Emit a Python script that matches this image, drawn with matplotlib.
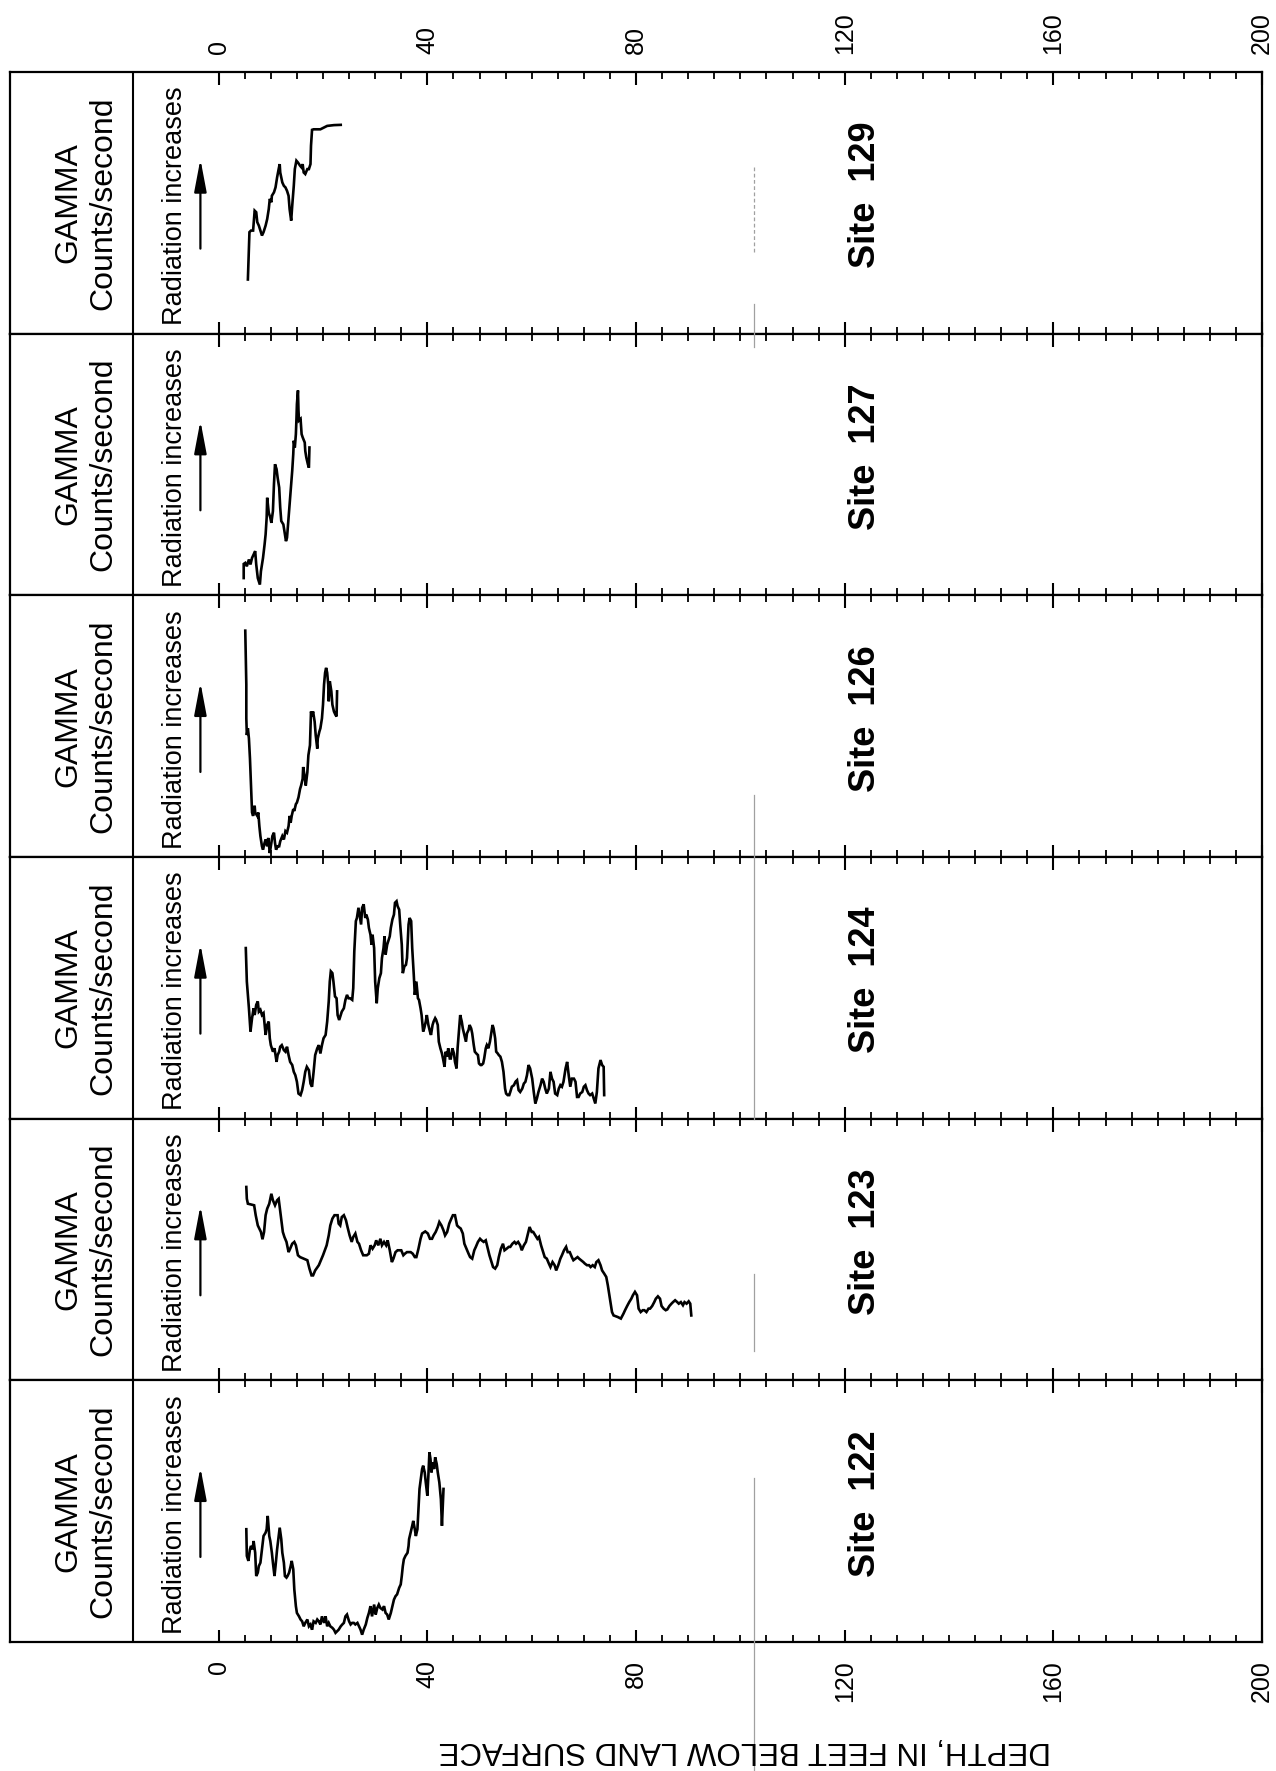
import matplotlib
matplotlib.use('Agg')
import matplotlib.pyplot as plt
import matplotlib.transforms as mtransforms
from matplotlib.lines import Line2D
import numpy as np

plt.rcParams['font.family'] = ['Liberation Sans', 'DejaVu Sans']

# Sites, top panel to bottom panel
SITES = ['129', '127', '126', '124', '123', '122']

# Gamma logs: depth in feet, gamma in relative counts (0 = panel bottom, 100 = panel top)
depth_129 = [5.6, 5.9, 6.2, 6.6, 6.9, 7.2, 7.4, 7.7, 8.0, 8.3,
             8.6, 9.0, 9.3, 9.6, 9.8, 10.1, 10.2, 10.6, 10.9, 11.2,
             11.5, 11.7, 11.8, 12.2, 12.5, 12.8, 13.1, 13.4, 13.6, 13.9,
             14.1, 14.4, 14.6, 14.9, 15.2, 15.6, 15.9, 16.1, 16.3, 16.6,
             17.0, 17.3, 17.6, 17.7, 17.9, 18.2, 18.9, 19.5, 20.2, 20.8,
             22.1, 23.4]
gamma_129 = [20.7, 38.8, 39.4, 39.4, 47.0, 46.4, 42.6, 41.3, 39.4, 37.5,
             38.8, 41.3, 43.8, 47.6, 51.5, 50.2, 52.7, 54.0, 55.9, 59.7,
             62.9, 64.8, 61.6, 57.8, 56.5, 55.9, 54.6, 52.7, 47.6, 43.2,
             48.9, 56.5, 62.9, 66.1, 65.4, 64.2, 63.5, 64.8, 61.6, 61.0,
             62.9, 62.9, 64.8, 71.8, 77.9, 78.1, 78.1, 78.1, 78.8, 79.4,
             79.7, 79.8]

depth_127 = [4.8, 4.8, 5.1, 5.4, 5.8, 6.1, 6.4, 6.7, 7.0, 7.2,
             7.5, 7.9, 8.1, 8.5, 8.8, 9.0, 9.2, 9.3, 9.6, 9.9,
             10.1, 10.4, 10.6, 10.8, 11.1, 11.3, 11.6, 11.8, 12.0, 12.4,
             12.6, 12.9, 13.1, 13.3, 13.6, 13.9, 14.1, 14.3, 14.4, 14.6,
             14.8, 14.9, 15.0, 15.2, 15.3, 15.4, 15.7, 15.9, 16.1, 16.5,
             16.6, 16.8, 17.1, 17.3, 17.4]
gamma_127 = [6.6, 12.0, 12.4, 11.1, 13.7, 11.8, 14.3, 15.6, 16.9, 11.8,
             6.6, 4.1, 9.2, 14.3, 19.4, 23.3, 29.7, 37.3, 31.6, 29.7,
             27.7, 32.2, 42.5, 50.1, 48.2, 45.0, 41.2, 33.5, 28.4, 27.1,
             24.6, 20.7, 22.0, 27.1, 34.8, 42.5, 47.6, 54.0, 59.1, 56.5,
             61.6, 66.8, 73.1, 78.3, 70.6, 66.8, 67.4, 61.6, 60.4, 58.4,
             55.2, 52.7, 50.1, 48.8, 56.5]

depth_126 = [5.1, 5.3, 5.3, 5.4, 5.6, 5.8, 6.0, 6.2, 6.4, 6.6,
             6.9, 7.0, 7.4, 7.6, 7.8, 8.0, 8.3, 8.5, 8.8, 9.0,
             9.3, 9.5, 9.8, 10.1, 10.3, 10.6, 10.8, 11.0, 11.3, 11.6,
             11.8, 12.2, 12.5, 12.8, 13.1, 13.4, 13.6, 13.8, 14.0, 14.3,
             14.5, 14.8, 15.0, 15.3, 15.6, 15.8, 16.1, 16.2, 16.5, 16.7,
             17.0, 17.2, 17.5, 17.7, 17.9, 18.1, 18.4, 18.6, 18.9, 19.0,
             19.3, 19.5, 19.8, 20.0, 20.2, 20.4, 20.6, 20.8, 21.0, 21.1,
             21.3, 21.6, 21.8, 22.1, 22.4, 22.6, 22.7]
gamma_126 = [86.5, 65.9, 53.0, 46.6, 49.2, 45.3, 37.6, 27.3, 17.0, 15.7,
             19.6, 17.0, 15.7, 17.0, 11.8, 8.0, 4.1, 2.8, 5.4, 6.7,
             4.1, 7.3, 1.5, 5.4, 8.0, 9.3, 5.4, 2.8, 4.1, 4.1,
             6.0, 8.0, 6.7, 9.9, 9.3, 11.8, 15.7, 13.1, 15.7, 18.3,
             17.6, 20.2, 20.8, 22.8, 26.0, 27.3, 29.9, 34.4, 30.5, 27.3,
             32.4, 38.9, 42.7, 55.6, 53.7, 55.6, 51.7, 46.6, 41.4, 45.3,
             47.9, 49.2, 53.0, 58.2, 65.9, 70.4, 72.3, 70.4, 65.9, 59.5,
             67.2, 63.3, 58.2, 55.6, 54.3, 53.7, 63.3]

depth_124 = [5.2, 5.4, 5.8, 6.1, 6.4, 6.7, 6.9, 7.2, 7.5, 7.7,
             8.0, 8.3, 8.6, 9.0, 9.3, 9.6, 9.8, 10.0, 10.4, 10.7,
             11.1, 11.3, 11.6, 11.8, 12.1, 12.5, 12.8, 13.1, 13.4, 13.7,
             14.1, 14.4, 14.7, 15.0, 15.3, 15.7, 16.0, 16.3, 16.6, 16.9,
             17.3, 17.6, 17.9, 18.2, 18.5, 18.9, 19.2, 19.5, 19.8, 20.1,
             20.5, 20.8, 21.1, 21.3, 21.5, 21.8, 22.0, 22.3, 22.6, 22.8,
             23.1, 23.3, 23.6, 24.0, 24.3, 24.6, 24.9, 25.2, 25.6, 25.8,
             26.0, 26.3, 26.5, 26.8, 27.0, 27.3, 27.5, 27.8, 28.1, 28.3,
             28.6, 28.8, 29.1, 29.3, 29.5, 29.8, 30.0, 30.3, 30.5, 30.8,
             31.1, 31.3, 31.6, 31.8, 32.0, 32.3, 32.5, 32.8, 33.0, 33.3,
             33.6, 33.8, 34.1, 34.3, 34.6, 34.8, 35.1, 35.3, 35.6, 35.9,
             36.1, 36.4, 36.6, 36.9, 37.1, 37.4, 37.6, 37.9, 38.2, 38.4,
             38.7, 38.9, 39.2, 39.4, 39.7, 39.9, 40.2, 40.5, 40.7, 41.0,
             41.2, 41.5, 41.7, 42.0, 42.2, 42.5, 42.8, 43.0, 43.3, 43.5,
             43.8, 44.0, 44.3, 44.5, 44.8, 45.1, 45.3, 45.6, 45.8, 46.1,
             46.3, 46.6, 46.8, 47.1, 47.4, 47.6, 47.9, 48.1, 48.4, 48.6,
             48.9, 49.1, 49.4, 49.7, 49.9, 50.2, 50.4, 50.7, 50.9, 51.2,
             51.4, 51.7, 52.0, 52.2, 52.5, 52.7, 53.0, 53.2, 53.5, 53.7,
             54.0, 54.3, 54.6, 54.9, 55.1, 55.4, 55.7, 55.9, 56.2, 56.6,
             56.9, 57.2, 57.5, 57.8, 58.2, 58.5, 58.8, 59.1, 59.4, 59.7,
             60.1, 60.4, 60.7, 61.0, 61.3, 61.7, 62.0, 62.3, 62.6, 62.9,
             63.3, 63.6, 63.9, 64.2, 64.5, 64.9, 65.2, 65.5, 65.8, 66.1,
             66.5, 66.8, 67.1, 67.4, 67.7, 68.1, 68.4, 68.7, 69.0, 69.3,
             69.7, 70.0, 70.3, 70.6, 70.9, 71.2, 71.6, 71.9, 72.2, 72.5,
             72.8, 73.2, 73.5, 73.8, 73.9]
gamma_124 = [65.2, 52.4, 42.2, 33.3, 38.4, 42.2, 39.6, 43.5, 44.8, 40.9,
             41.6, 39.6, 40.3, 32.0, 35.8, 37.1, 30.7, 28.1, 25.6, 26.9,
             21.7, 24.3, 25.6, 27.5, 28.1, 26.2, 25.6, 27.5, 24.3, 21.7,
             20.5, 17.9, 16.6, 14.1, 9.6, 9.0, 10.9, 14.1, 17.9, 19.8,
             18.5, 13.4, 12.2, 17.9, 24.3, 26.9, 28.1, 24.9, 28.1, 30.7,
             32.0, 37.1, 44.8, 52.4, 56.3, 55.6, 52.4, 46.7, 46.0, 39.6,
             37.7, 39.0, 40.9, 42.2, 45.4, 47.3, 46.0, 46.0, 45.4, 49.9,
             63.9, 75.5, 76.7, 80.6, 78.0, 74.2, 80.6, 81.9, 76.7, 78.0,
             76.1, 72.9, 70.3, 66.5, 70.3, 65.2, 52.4, 44.1, 49.9, 53.7,
             55.6, 61.4, 65.2, 69.7, 62.7, 66.5, 67.8, 69.7, 72.9, 76.1,
             78.0, 82.5, 83.1, 81.2, 79.9, 74.2, 66.5, 55.6, 58.2, 58.8,
             61.4, 74.2, 76.7, 75.5, 65.2, 55.0, 47.3, 52.4, 46.0, 45.4,
             42.2, 39.6, 33.3, 34.5, 37.1, 39.6, 35.8, 33.3, 32.0, 35.8,
             37.1, 38.4, 37.7, 35.8, 29.4, 26.9, 24.9, 23.0, 19.8, 25.6,
             23.7, 26.9, 23.0, 23.0, 26.9, 24.9, 21.7, 19.2, 26.9, 34.5,
             39.6, 37.1, 34.5, 32.0, 29.4, 32.6, 33.9, 35.8, 34.5, 32.6,
             28.1, 25.6, 24.9, 24.3, 21.1, 20.5, 20.5, 21.1, 23.0, 26.9,
             28.1, 26.9, 29.4, 32.0, 35.8, 34.5, 30.7, 25.6, 24.9, 24.3,
             23.7, 21.7, 17.9, 11.5, 9.6, 9.0, 9.0, 10.2, 12.2, 12.8,
             14.1, 14.7, 10.9, 10.2, 11.5, 13.4, 14.1, 16.6, 20.5, 19.2,
             15.3, 10.2, 5.8, 7.7, 10.2, 12.8, 15.3, 14.1, 11.5, 9.6,
             11.5, 17.9, 15.3, 14.1, 9.6, 9.0, 11.5, 12.8, 12.2, 14.1,
             19.2, 21.7, 16.6, 12.2, 15.3, 15.3, 14.1, 8.3, 8.3, 9.6,
             10.2, 12.2, 12.8, 10.9, 9.6, 9.0, 9.6, 7.7, 5.8, 10.2,
             19.2, 22.4, 20.5, 19.8, 9.0]

depth_123 = [5.3, 5.4, 5.6, 6.4, 6.8, 7.1, 7.5, 8.1, 8.4, 8.7,
             9.0, 9.3, 9.7, 10.1, 10.4, 10.8, 11.2, 11.5, 11.9, 12.3,
             12.6, 13.0, 13.4, 13.7, 14.1, 14.5, 14.8, 15.2, 15.6, 16.3,
             17.0, 17.4, 17.8, 18.1, 18.5, 19.2, 20.0, 20.7, 21.1, 21.4,
             21.8, 22.2, 22.8, 23.0, 23.3, 23.6, 24.0, 24.4, 24.7, 25.1,
             25.5, 25.8, 26.2, 26.6, 26.9, 27.3, 27.7, 28.4, 28.8, 29.1,
             29.5, 29.9, 30.2, 30.6, 31.0, 31.3, 31.7, 32.1, 32.4, 32.8,
             33.2, 33.5, 33.9, 34.3, 35.0, 35.4, 35.7, 36.1, 36.8, 37.2,
             37.6, 37.9, 38.3, 38.7, 39.0, 39.6, 40.1, 40.5, 40.9, 41.2,
             41.6, 42.0, 42.3, 42.7, 43.1, 43.4, 43.8, 44.2, 44.6, 44.9,
             45.3, 45.7, 46.0, 46.4, 46.8, 47.1, 47.5, 47.9, 48.2, 48.6,
             49.0, 49.3, 49.7, 50.1, 50.4, 50.8, 51.2, 51.5, 51.9, 52.3,
             52.6, 53.0, 53.4, 53.7, 54.1, 54.5, 54.8, 55.2, 55.6, 55.9,
             56.3, 56.7, 57.0, 57.4, 57.8, 58.1, 58.5, 58.9, 59.2, 59.6,
             60.0, 60.3, 60.7, 61.1, 61.4, 61.8, 62.2, 62.5, 62.9, 63.3,
             63.6, 64.0, 64.4, 64.7, 65.1, 65.5, 65.8, 66.2, 66.6, 66.9,
             67.3, 67.7, 68.0, 68.4, 68.8, 69.1, 69.9, 70.2, 70.6, 71.0,
             71.3, 71.7, 72.1, 72.4, 72.8, 73.2, 73.5, 73.9, 74.3, 74.6,
             75.0, 75.4, 75.7, 76.5, 77.1, 77.6, 77.9, 78.3, 78.7, 79.1,
             79.4, 79.8, 80.2, 80.5, 80.9, 81.3, 81.6, 82.0, 82.4, 82.7,
             83.1, 83.5, 83.8, 84.2, 84.6, 84.9, 85.3, 85.7, 86.0, 86.4,
             86.8, 87.1, 87.5, 87.9, 88.2, 88.6, 89.0, 89.3, 89.7, 90.1,
             90.4, 90.6]
gamma_123 = [73.9, 69.4, 67.5, 67.1, 66.9, 63.1, 59.2, 56.7, 53.9, 56.7,
             63.1, 65.6, 67.5, 71.3, 68.8, 66.9, 68.8, 69.4, 63.1, 56.7,
             54.8, 52.9, 49.0, 50.3, 52.2, 52.9, 51.6, 47.8, 47.1, 46.5,
             45.9, 42.7, 40.1, 40.1, 42.0, 44.0, 47.8, 51.6, 55.4, 59.2,
             61.8, 63.1, 63.1, 59.9, 59.2, 62.4, 63.1, 61.2, 58.6, 55.4,
             52.9, 54.8, 56.1, 52.9, 52.2, 49.7, 47.8, 47.8, 48.4, 51.6,
             50.3, 51.6, 53.5, 51.6, 54.1, 51.6, 52.9, 51.6, 53.5, 49.7,
             45.2, 46.5, 49.0, 49.7, 49.7, 47.8, 48.4, 49.0, 49.0, 48.4,
             47.1, 47.1, 50.3, 54.1, 56.1, 56.9, 56.1, 54.1, 54.1, 55.4,
             56.7, 58.6, 60.5, 59.2, 57.3, 55.4, 56.7, 59.9, 61.8, 63.1,
             63.1, 59.2, 58.6, 58.0, 56.1, 52.2, 50.3, 48.4, 47.1, 46.5,
             49.7, 51.0, 52.9, 54.1, 53.5, 52.9, 53.5, 51.0, 47.8, 45.2,
             43.3, 42.7, 44.0, 47.1, 50.3, 52.2, 49.7, 50.3, 51.0, 51.0,
             52.2, 52.9, 52.2, 52.9, 51.6, 49.7, 51.6, 52.9, 55.4, 58.6,
             56.7, 56.7, 55.4, 54.1, 54.8, 51.6, 49.0, 47.1, 46.5, 44.6,
             43.3, 45.2, 44.0, 42.0, 44.0, 46.5, 47.8, 49.7, 51.0, 49.0,
             49.0, 47.1, 45.9, 46.5, 47.1, 46.5, 45.2, 44.6, 44.0, 44.0,
             43.3, 44.0, 43.3, 45.2, 45.9, 44.0, 42.0, 40.8, 39.5, 36.3,
             31.2, 26.1, 24.8, 24.2, 23.6, 25.5, 26.8, 28.4, 29.9, 31.2,
             32.5, 33.8, 32.5, 27.4, 26.1, 26.8, 26.8, 26.1, 27.4, 27.4,
             28.4, 29.9, 31.2, 32.1, 31.2, 28.4, 27.4, 26.8, 27.1, 28.4,
             29.3, 29.9, 30.6, 29.9, 29.3, 29.9, 28.7, 29.9, 29.3, 30.2,
             29.3, 24.8]

depth_122 = [5.3, 5.4, 5.7, 6.0, 6.2, 6.5, 6.7, 7.0, 7.2, 7.5,
             7.7, 8.0, 8.3, 8.6, 9.0, 9.2, 9.4, 9.7, 9.9, 10.2,
             10.4, 10.7, 10.9, 11.2, 11.5, 11.7, 12.0, 12.2, 12.5, 12.7,
             13.0, 13.2, 13.5, 13.8, 14.0, 14.3, 14.5, 14.8, 15.0, 15.4,
             15.7, 16.0, 16.3, 16.6, 17.0, 17.3, 17.6, 17.9, 18.2, 18.6,
             18.9, 19.2, 19.5, 19.8, 20.2, 20.5, 20.8, 21.1, 21.4, 21.8,
             22.1, 22.4, 22.7, 23.0, 23.4, 23.7, 24.0, 24.3, 24.6, 25.0,
             25.3, 25.6, 25.9, 26.2, 26.6, 26.9, 27.2, 27.5, 27.8, 28.2,
             28.5, 28.8, 29.1, 29.4, 29.8, 30.1, 30.4, 30.7, 31.0, 31.4,
             31.7, 32.0, 32.3, 32.6, 33.0, 33.3, 33.6, 33.9, 34.2, 34.6,
             34.9, 35.1, 35.3, 35.5, 35.8, 36.2, 36.4, 36.5, 36.8, 37.1,
             37.3, 37.6, 37.8, 38.1, 38.3, 38.5, 38.7, 39.0, 39.2, 39.5,
             39.7, 40.0, 40.2, 40.4, 40.6, 40.8, 41.0, 41.3, 41.5, 41.8,
             42.0, 42.3, 42.6, 42.8, 43.1]
gamma_122 = [43.1, 32.9, 31.0, 35.4, 36.7, 35.4, 38.6, 34.1, 25.2, 26.5,
             29.0, 30.3, 35.4, 40.5, 41.8, 43.1, 48.2, 40.5, 38.6, 34.1,
             30.3, 25.2, 29.0, 35.4, 40.5, 43.7, 39.3, 34.1, 30.3, 25.2,
             24.6, 25.2, 26.5, 29.0, 31.0, 27.8, 20.1, 13.7, 11.1, 9.8,
             8.6, 7.9, 6.0, 7.3, 8.6, 6.0, 6.7, 4.7, 7.9, 7.3,
             8.6, 7.9, 6.7, 9.8, 7.3, 9.8, 6.0, 7.3, 6.0, 5.4,
             4.7, 3.5, 4.1, 4.7, 6.0, 6.7, 7.3, 9.8, 10.5, 7.9,
             6.7, 7.3, 7.3, 6.7, 7.3, 6.0, 4.7, 2.8, 4.7, 6.7,
             9.2, 11.1, 13.7, 9.8, 14.3, 10.5, 13.0, 14.3, 13.0, 12.4,
             13.7, 11.1, 10.5, 8.6, 11.1, 13.7, 16.2, 17.5, 18.2, 20.7,
             22.0, 25.2, 29.0, 31.6, 32.9, 34.1, 36.7, 39.3, 41.8, 44.4,
             46.3, 43.1, 40.5, 43.1, 50.8, 58.5, 61.6, 66.1, 67.4, 64.8,
             61.0, 55.9, 63.6, 72.5, 70.0, 64.8, 68.7, 66.1, 70.6, 68.0,
             64.8, 61.0, 54.6, 44.4, 58.5]

LOGS = {
    '129': (depth_129, gamma_129),
    '127': (depth_127, gamma_127),
    '126': (depth_126, gamma_126),
    '124': (depth_124, gamma_124),
    '123': (depth_123, gamma_123),
    '122': (depth_122, gamma_122),
}

DEPTH_TICKS = [0, 40, 80, 120, 160, 200]

# Layout (pixels of the 1276 x 1771 page)
W, H = 1276, 1771
LEFT_PX, RIGHT_PX = 10, 1262
TOP_PX, BOTTOM_PX = 72, 1642
X_MIN, X_MAX = -40, 200
HEADER_EDGE = -16.5
PANEL_H = (BOTTOM_PX - TOP_PX) / len(SITES)

fig = plt.figure(figsize=(W / 100, H / 100), dpi=100)
fig.patch.set_facecolor('white')

minor_ticks = [t for t in np.arange(0, 201, 5) if t % 40 != 0]
axes = []
for i, site in enumerate(SITES):
    y_top = TOP_PX + i * PANEL_H
    ax = fig.add_axes([LEFT_PX / W, 1 - (y_top + PANEL_H) / H,
                       (RIGHT_PX - LEFT_PX) / W, PANEL_H / H])
    axes.append(ax)
    depth, gamma = LOGS[site]
    ax.plot(depth, gamma, color='black', lw=1.9, solid_joinstyle='miter')
    ax.set_xlim(X_MIN, X_MAX)
    ax.set_ylim(0, 100)
    ax.set_yticks([])
    ax.set_xticks(DEPTH_TICKS)
    ax.set_xticklabels([str(t) for t in DEPTH_TICKS])
    ax.set_xticks(minor_ticks, minor=True)
    ax.tick_params(axis='x', which='major', direction='in', top=True, bottom=True,
                   length=9, width=1.5, labelsize=18, pad=13, labelrotation=90,
                   labelbottom=(i == len(SITES) - 1), labeltop=(i == 0))
    ax.tick_params(axis='x', which='minor', direction='in', top=True, bottom=True,
                   length=5, width=1.3)
    for s in ax.spines.values():
        s.set_linewidth(1.6)
        s.set_color('black')
    ax.axvline(HEADER_EDGE, color='black', lw=1.5)

    tr = ax.get_xaxis_transform()
    ax.text(-25.4, 0.5, 'GAMMA\nCounts/second', transform=tr, rotation=90,
            ha='center', va='center', fontsize=23, linespacing=1.2,
            multialignment='center')
    ax.text(-8.3, 0.032, 'Radiation increases', transform=tr, rotation=90,
            ha='center', va='bottom', fontsize=19.5)
    ax.annotate('', xy=(-3.5, 0.667), xytext=(-3.5, 0.325),
                xycoords=tr, textcoords=tr,
                arrowprops=dict(arrowstyle='-|>,head_length=0.9,head_width=0.17',
                                mutation_scale=22, lw=1.6, color='black',
                                shrinkA=0, shrinkB=0))
    ax.text(124, 0.53, f'Site  {site}', transform=tr, rotation=90,
            ha='center', va='center', fontsize=26, fontweight='bold')

# faint vertical scan line crossing the panels
scan = mtransforms.blended_transform_factory(axes[0].transData, fig.transFigure)
for y1, y2, ls in [(167, 254, (0, (3, 2))), (304, 347, '-'), (795, 1119, '-'),
                   (1274, 1351, '-'), (1478, 1771, '-')]:
    fig.add_artist(Line2D([102.7, 102.7], [1 - y1 / H, 1 - y2 / H], transform=scan,
                          color='#a0a0a0', lw=0.9, linestyle=ls))

fig.text(745 / W, 1 - 1750 / H, 'DEPTH, IN FEET BELOW LAND SURFACE', rotation=180,
         ha='center', va='center', fontsize=22.5)

fig.savefig('out.png', dpi=100, facecolor='white')
